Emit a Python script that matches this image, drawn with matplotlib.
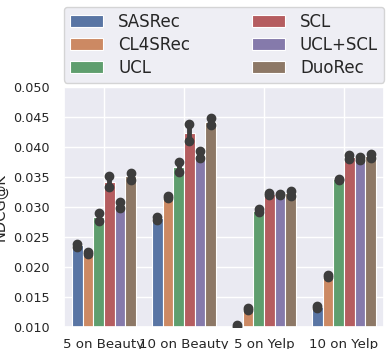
import numpy as np
import matplotlib
matplotlib.use("Agg")
import matplotlib.pyplot as plt
import seaborn as sns

groups = ["5 on Beauty", "10 on Beauty", "5 on Yelp", "10 on Yelp"]
methods = ["SASRec", "CL4SRec", "UCL", "SCL", "UCL+SCL", "DuoRec"]

# mean NDCG@K per method, one value per group
sasrec = [0.0236, 0.0281, 0.0102, 0.0133]
cl4srec = [0.0223, 0.0317, 0.0130, 0.0185]
ucl = [0.0283, 0.0367, 0.0294, 0.0346]
scl = [0.0342, 0.0424, 0.0322, 0.0383]
ucl_scl = [0.0304, 0.0387, 0.0321, 0.0381]
duorec = [0.0351, 0.0442, 0.0323, 0.0385]

# half-width of the error bars
sasrec_err = [0.0002, 0.0002, 0.0002, 0.0002]
cl4srec_err = [0.0002, 0.0002, 0.0002, 0.0002]
ucl_err = [0.0007, 0.0008, 0.0002, 0.0001]
scl_err = [0.0009, 0.0014, 0.0002, 0.0003]
ucl_scl_err = [0.0005, 0.0006, 0.0001, 0.0002]
duorec_err = [0.0006, 0.0006, 0.0004, 0.0004]

values = [sasrec, cl4srec, ucl, scl, ucl_scl, duorec]
errors = [sasrec_err, cl4srec_err, ucl_err, scl_err, ucl_scl_err, duorec_err]

sns.set_theme(style="darkgrid")
# seaborn barplot desaturates its colors a bit
colors = [sns.desaturate(c, 0.75) for c in sns.color_palette("deep")]

fig = plt.figure(figsize=(3.87, 3.49), dpi=100)
ax = fig.add_axes([0.165, 0.063, 0.827, 0.688])

x = np.arange(len(groups))
w = 0.8 / len(methods)
for i, (m, v, e) in enumerate(zip(methods, values, errors)):
    pos = x - 0.4 + w * (i + 0.5)
    ax.bar(pos, v, width=w, color=colors[i], edgecolor="white", linewidth=0.8, label=m)
    v = np.array(v)
    e = np.array(e)
    ax.vlines(pos, v - e, v + e, color="#3d3d3d", linewidth=3.5, zorder=3)
    ax.plot(pos, v - e, "o", color="#3d3d3d", markersize=6, zorder=3)
    ax.plot(pos, v + e, "o", color="#3d3d3d", markersize=6, zorder=3)

ax.set_xlim(-0.5, 3.5)
ax.set_ylim(0.010, 0.050)
ax.set_yticks(np.arange(0.010, 0.0501, 0.005))
ax.set_xticks(x)
ax.set_xticklabels(groups, fontsize=9.6)
ax.tick_params(axis="x", pad=2)
ax.tick_params(axis="y", labelsize=9.2, pad=4)
ax.set_ylabel("NDCG@K", fontsize=10.5, labelpad=4)

ax.legend(ncol=2, fontsize=12, loc="lower left", bbox_to_anchor=(0.0, 1.018, 1.0, 0.3),
          mode="expand", handlelength=2.0, handletextpad=0.9, labelspacing=0.3,
          borderpad=0.35, borderaxespad=0.0, columnspacing=1.0)

fig.savefig("out.png", dpi=100)
